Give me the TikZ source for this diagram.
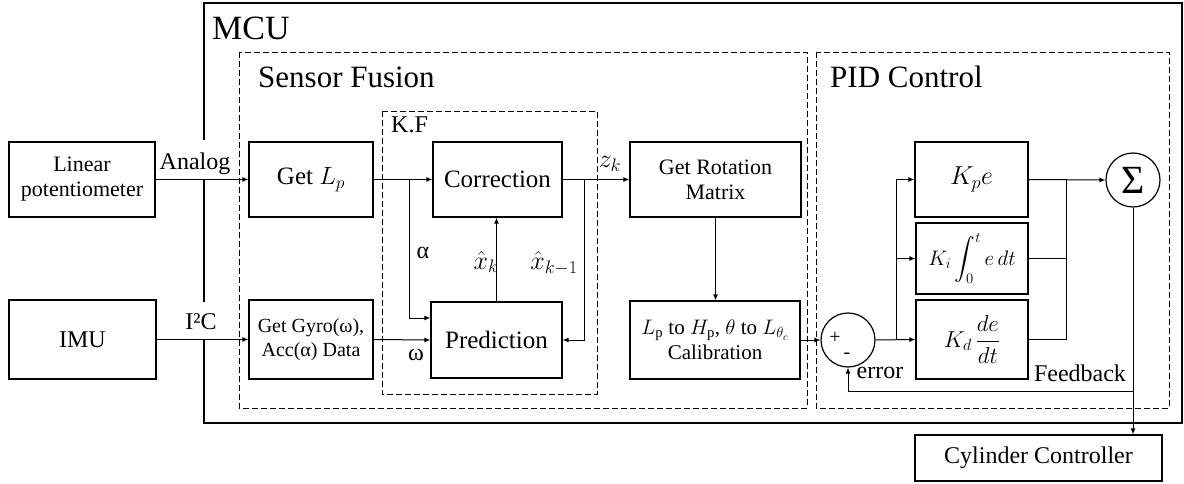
\RequirePackage{fix-cm}
\documentclass[tikz,border=0pt]{standalone}
\usepackage{amsmath}
\usepackage{fontspec}
\setmainfont{Liberation Serif}
\usetikzlibrary{arrows.meta,calc}
\newcommand{\fsz}[2]{\fontsize{#1}{#2}\selectfont}
\begin{document}
\begin{tikzpicture}[x=1pt,y=-1pt,
  blk/.style={draw, line width=1.2pt, inner sep=0pt, align=center, font=\fsz{22}{25}},
  arr/.style={-{Latex[length=6pt,width=5pt]}, line width=1pt},
  ln/.style={line width=1pt},
  dbox/.style={draw, line width=0.9pt, dash pattern=on 6pt off 3pt},
  lbl/.style={inner sep=0pt, font=\fsz{24}{26}},
  ttl/.style={inner sep=0pt, anchor=base west}
]
\useasboundingbox (0,0) rectangle (1184,484);

% MCU frame
\draw[line width=2.6pt] (204,140) -- (204,3) -- (1182,3) -- (1182,423) -- (204,423) -- (204,340);
\draw[line width=2.6pt] (204,180) -- (204,302);
\node[ttl, font=\fsz{34}{36}] (mcu) at (212,40) {MCU};

% dashed groups
\draw[dbox] (239,52) rectangle (807,408);
\draw[dbox] (816,52) rectangle (1169,408);
\draw[dbox] (382,111) rectangle (597,394);
\node[ttl, font=\fsz{31}{33}] (sf) at (258,88) {Sensor Fusion};
\node[ttl, font=\fsz{31}{33}] (pid) at (830,88) {PID Control};
\node[ttl, font=\fsz{24}{26}] (kf) at (391,133) {K.F};

% blocks
\node[blk, minimum width=146pt, minimum height=75pt] (lin) at (82,179.5) {Linear\\potentiometer};
\node[blk, minimum width=147pt, minimum height=79pt, font=\fsz{24}{26}] (imu) at (82.5,339.5) {IMU};
\node[blk, minimum width=124pt, minimum height=75pt, font=\fsz{25}{27}] (getlp) at (311,179.5) {Get $L_p$};
\node[blk, minimum width=124pt, minimum height=79pt, font=\fsz{20}{24}] (gyro) at (311,339.5) {Get Gyro(ω),\\Acc(α) Data};
\node[blk, minimum width=129pt, minimum height=75pt, font=\fsz{25}{27}] (corr) at (497.5,179.5) {Correction};
\node[blk, minimum width=131pt, minimum height=76pt, font=\fsz{25}{27}] (pred) at (496.5,340) {Prediction};
\node[blk, minimum width=171pt, minimum height=75pt] (rot) at (715.5,179.5) {Get Rotation\\Matrix};
\node[blk, minimum width=170pt, minimum height=78pt, font=\fsz{21}{25}] (cal) at (715,340) {$L_\mathrm{p}$ to $H_\mathrm{p}$, $\theta$ to $L_{\theta_c}$\\Calibration};
\node[blk, minimum width=113pt, minimum height=75pt, font=\fsz{26}{28}] (kp) at (971.5,179.5) {$K_p e$};
\node[blk, minimum width=112pt, minimum height=71pt, font=\fsz{21}{24}] (ki) at (972,258.5) {$K_i \displaystyle\int_0^t e\,dt$};
\node[blk, minimum width=112pt, minimum height=79pt, font=\fsz{23}{25}] (kd) at (972,339.5) {$K_d\,\dfrac{de}{dt}$};
\node[draw, circle, line width=1.2pt, minimum size=54pt, inner sep=0pt] (sum) at (848,340) {};
\node[draw, circle, line width=1.2pt, minimum size=54pt, inner sep=0pt, font=\fsz{40}{42}] (sig) at (1133,180) {Σ};
\node[blk, minimum width=247pt, minimum height=46pt, font=\fsz{24}{26}] (cyl) at (1038.5,458) {Cylinder Controller};
\node[lbl, font=\fsz{20}{22}] (plus) at (835,338) {+};
\node[lbl, font=\fsz{20}{22}] (minus) at (847,356) {-};

% coordinates
\coordinate (bA) at (409,179.5);
\coordinate (bZ) at (584,179.5);
\coordinate (bE) at (896,340);
\coordinate (mg) at (1066,179.5);
\coordinate (fb) at (1133,391);

% connectors
\draw[arr] (lin.east) -- (getlp.west);
\draw[arr] (imu.east) -- (gyro.west);
\draw[arr] (getlp.east) -- (corr.west);
\draw[arr] (bA) |- ([yshift=22pt]pred.west);
\draw[arr] (gyro.east) -- (pred.west);
\draw[arr] (pred.north) -- (pred.north |- corr.south);
\draw[arr] (corr.east) -- (rot.west);
\draw[arr] (bZ) |- (pred.east);
\draw[arr] (rot.south) -- (rot.south |- cal.north);
\draw[arr] (cal.east) -- (sum.west);
\draw[arr] (sum.east) -- (kd.west);
\draw[arr] (bE) |- (kp.west);
\draw[arr] (bE) |- (ki.west);
\draw[arr] (kp.east) -- (sig.west);
\draw[ln] (ki.east) -| (mg);
\draw[ln] (kd.east) -| (mg);
\draw[arr] (sig.south) -- (sig.south |- cyl.north);
\draw[arr] (fb) -| (sum.south);

% labels
\node[lbl] (lanalog) at (195,164) {Analog};
\node[lbl] (li2c) at (201,322) {I²C};
\node[lbl] (lalpha) at (423,253) {α};
\node[lbl] (lomega) at (416,355) {ω};
\node[lbl, font=\fsz{26}{28}] (lxk) at (486,262) {$\hat{x}_k$};
\node[lbl, font=\fsz{26}{28}] (lxk1) at (554,263) {$\hat{x}_{k-1}$};
\node[lbl, font=\fsz{26}{28}] (lzk) at (610,164) {$z_k$};
\node[lbl] (lerr) at (880,373) {error};
\node[lbl] (lfb) at (1080,373) {Feedback};
\end{tikzpicture}
\end{document}
